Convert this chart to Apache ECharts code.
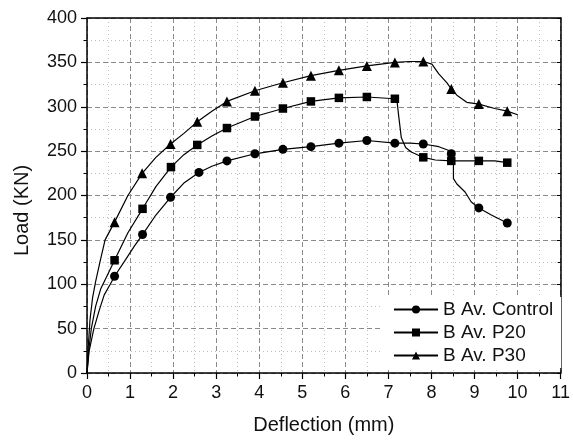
<!DOCTYPE html>
<html>
<head>
  <meta charset="utf-8">
  <title>Load - Deflection</title>
  <script src="https://cdn.jsdelivr.net/npm/echarts/dist/echarts.min.js"></script>
  <style>
    html, body { margin: 0; padding: 0; background: #fff; }
    #chart { width: 573px; height: 442px; }
  </style>
</head>
<body>
  <div id="chart"></div>
  <script>
    // [deflection, load, marker?]
    var controlPts = [
      [0, 0, 0], [0.05, 25, 0], [0.16, 50, 0], [0.28, 70, 0], [0.4, 88, 0], [0.54, 100, 0], [0.64, 109, 1],
      [0.9, 128, 0], [1.1, 143, 0], [1.29, 156, 1], [1.6, 178, 0], [1.94, 198, 1], [2.25, 214, 0],
      [2.6, 226, 1], [2.9, 233, 0], [3.25, 239, 1], [3.9, 247, 1], [4.55, 252, 1], [5.2, 255, 1],
      [5.85, 259, 1], [6.5, 262, 1], [7.15, 259, 1], [7.5, 259, 0], [7.81, 258, 1], [8.17, 255, 0],
      [8.39, 251, 0], [8.46, 247, 1], [8.51, 245, 0], [8.51, 219, 0], [8.59, 213, 0], [8.78, 204, 0],
      [8.92, 193, 0], [9.1, 186, 1], [9.39, 178, 0], [9.76, 169, 1], [9.8, 168, 0]
    ];
    var p20Pts = [
      [0, 0, 0], [0.04, 25, 0], [0.1, 50, 0], [0.2, 75, 0], [0.32, 95, 0], [0.45, 108, 0], [0.64, 127, 1],
      [0.95, 158, 0], [1.29, 185, 1], [1.6, 210, 0], [1.95, 232, 1], [2.25, 246, 0], [2.56, 257, 1],
      [2.9, 267, 0], [3.25, 276, 1], [3.9, 289, 1], [4.55, 298, 1], [5.2, 306, 1], [5.85, 310, 1],
      [6.5, 311, 1], [7.15, 309, 1], [7.2, 306, 0], [7.25, 285, 0], [7.3, 265, 0], [7.4, 254, 0],
      [7.53, 249, 0], [7.71, 245, 0], [7.81, 243, 1], [8.09, 240, 0], [8.46, 239, 1], [9.1, 239, 1],
      [9.47, 239, 0], [9.76, 237, 1]
    ];
    var p30Pts = [
      [0, 0, 0], [0.03, 30, 0], [0.07, 60, 0], [0.13, 85, 0], [0.2, 103, 0], [0.3, 125, 0], [0.42, 150, 0],
      [0.64, 170, 1], [0.95, 200, 0], [1.28, 225, 1], [1.6, 243, 0], [1.94, 258, 1], [2.25, 270, 0],
      [2.56, 283, 1], [2.9, 295, 0], [3.25, 306, 1], [3.9, 318, 1], [4.55, 327, 1], [5.2, 335, 1],
      [5.85, 341, 1], [6.5, 346, 1], [7.15, 350, 1], [7.5, 351, 0], [7.81, 351, 1], [8.01, 348, 0],
      [8.17, 337, 0], [8.36, 327, 0], [8.46, 320, 1], [8.59, 313, 0], [8.82, 305, 0], [9.1, 303, 1],
      [9.47, 298, 0], [9.76, 295, 1], [10.0, 291, 0]
    ];
    var seriesNames = ['B Av. Control', 'B Av. P20', 'B Av. P30'];
    var seriesSymbols = ['circle', 'rect', 'triangle'];
    var seriesSizes = [9, 8.5, 10];

    function toData(pts) {
      return pts.map(function (p) {
        var item = { value: [p[0], p[1]] };
        if (!p[2]) item.symbol = 'none';
        return item;
      });
    }

    var font = 'Liberation Sans, Arial, sans-serif';
    var myChart = echarts.init(document.getElementById('chart'));

    var dashMajor = { color: '#8a8a8a', width: 1, type: [5, 3] };
    var dotMinor = { color: '#bdbdbd', width: 1, type: [1, 3] };

    var option = {
      animation: false,
      grid: { left: 87, right: 6, top: 18, bottom: 69 },
      legend: {
        orient: 'vertical',
        left: 380,
        top: 297,
        padding: [3, 8, 3, 13],
        backgroundColor: '#fff',
        itemWidth: 44,
        itemHeight: 10,
        itemGap: 4,
        textStyle: { fontFamily: font, fontSize: 19, color: '#111' },
        data: seriesNames
      },
      xAxis: [{
        type: 'value',
        min: 0, max: 11, interval: 1,
        name: 'Deflection (mm)',
        nameLocation: 'middle',
        nameGap: 42,
        nameTextStyle: { fontFamily: font, fontSize: 20, color: '#111' },
        axisLine: { onZero: false, lineStyle: { color: '#000', width: 1.5 } },
        axisTick: { length: 6, lineStyle: { color: '#000', width: 1.2 } },
        minorTick: { show: true, splitNumber: 2, length: 3.5, lineStyle: { color: '#000', width: 1 } },
        axisLabel: { margin: 11, fontFamily: font, fontSize: 18, color: '#111' },
        splitLine: { show: true, lineStyle: dashMajor },
        minorSplitLine: { show: true, lineStyle: dotMinor }
      }, {
        type: 'value',
        position: 'top',
        min: 0, max: 11, interval: 1,
        axisLine: { show: true, onZero: false, lineStyle: { color: '#000', width: 1.5 } },
        axisTick: { show: false },
        axisLabel: { show: false },
        splitLine: { show: false }
      }],
      yAxis: [{
        type: 'value',
        min: 0, max: 400, interval: 50,
        name: 'Load (KN)',
        nameLocation: 'middle',
        nameGap: 55,
        nameTextStyle: { fontFamily: font, fontSize: 20, color: '#111', padding: [0, 30, 0, 0] },
        axisLine: { show: true, onZero: false, lineStyle: { color: '#000', width: 1.5 } },
        axisTick: { length: 6, lineStyle: { color: '#000', width: 1.2 } },
        minorTick: { show: true, splitNumber: 2, length: 3.5, lineStyle: { color: '#000', width: 1 } },
        axisLabel: { margin: 10, fontFamily: font, fontSize: 18, color: '#111' },
        splitLine: { show: true, lineStyle: dashMajor },
        minorSplitLine: { show: true, lineStyle: dotMinor }
      }, {
        type: 'value',
        position: 'right',
        min: 0, max: 400, interval: 50,
        axisLine: { show: true, onZero: false, lineStyle: { color: '#000', width: 1.5 } },
        axisTick: { inside: true, length: 4, lineStyle: { color: '#000' } },
        minorTick: { show: true, splitNumber: 2, length: 3, lineStyle: { color: '#000' } },
        axisLabel: { show: false },
        splitLine: { show: false }
      }],
      series: [controlPts, p20Pts, p30Pts].map(function (pts, i) {
        return {
          name: seriesNames[i],
          type: 'line',
          xAxisIndex: 0,
          yAxisIndex: 0,
          symbol: seriesSymbols[i],
          symbolSize: seriesSizes[i],
          showSymbol: true,
          lineStyle: { color: '#000', width: 1.2 },
          itemStyle: { color: '#000' },
          emphasis: { disabled: true },
          data: toData(pts)
        };
      })
    };

    myChart.setOption(option);
  </script>
</body>
</html>
